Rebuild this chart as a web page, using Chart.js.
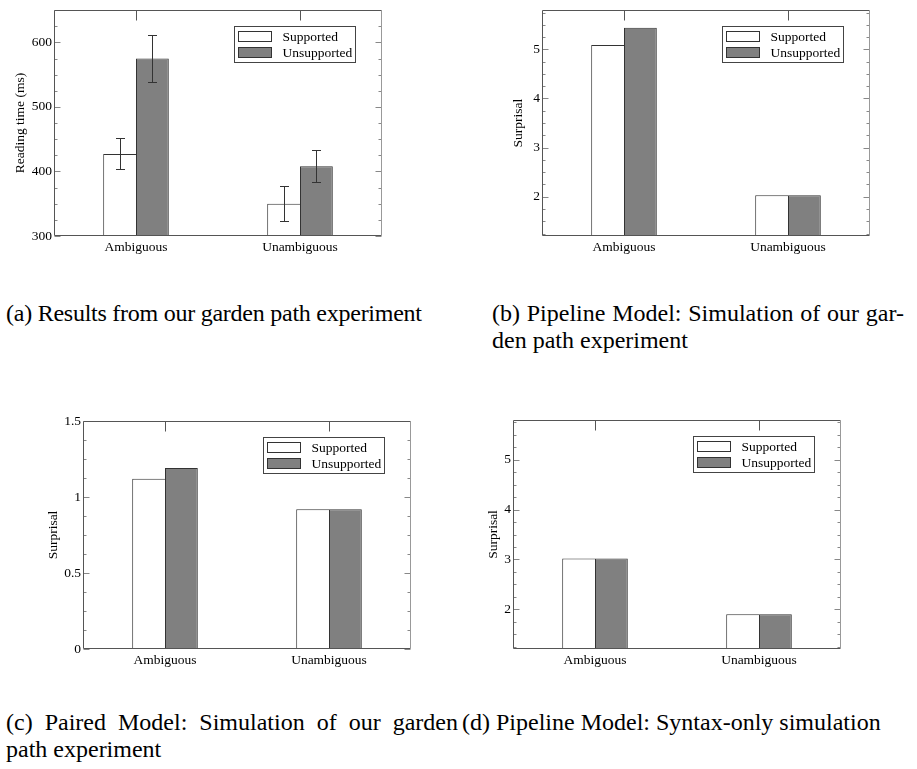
<!DOCTYPE html>
<html lang="en">
<head>
<meta charset="utf-8">
<title>Garden path</title>
<script src="https://cdn.jsdelivr.net/npm/chart.js@4.4.1/dist/chart.umd.min.js"></script>
<style>
  body { margin: 0; background: #fff; width: 917px; height: 769px; position: relative; overflow: hidden;
         font-family: 'Liberation Serif', 'Times New Roman', serif; }
  canvas { position: absolute; }
  .pie { position: absolute; font-size: 24px; line-height: 27px; color: #000; white-space: nowrap; }
  .justo { white-space: normal; text-align: justify; text-align-last: justify; }
</style>
</head>
<body>
<canvas id="grafA" width="390" height="260" style="left:10px; top:0px"></canvas>
<canvas id="grafB" width="390" height="260" style="left:508px; top:0px"></canvas>
<canvas id="grafC" width="390" height="270" style="left:43px; top:400px"></canvas>
<canvas id="grafD" width="390" height="270" style="left:483px; top:400px"></canvas>

<div class="pie" style="left:6px; top:300px; letter-spacing:-0.25px">(a) Results from our garden path experiment</div>
<div class="pie justo" style="left:492px; top:300px; width:412px">(b) Pipeline Model: Simulation of our gar-</div>
<div class="pie" style="left:492px; top:327px">den path experiment</div>
<div class="pie justo" style="left:6px; top:709px; width:452px">(c) Paired Model: Simulation of our garden</div>
<div class="pie" style="left:462px; top:709px">(d) Pipeline Model: Syntax-only simulation</div>
<div class="pie" style="left:6px; top:736px">path experiment</div>

<script>
// --- Datos ---
const categorias = ['Ambiguous', 'Unambiguous'];
const series = ['Supported', 'Unsupported'];

// (a) tiempos de lectura en ms, con barras de error
const tiempoApoyado = [427, 350];
const tiempoNoApoyado = [575, 408];
const errorApoyadoBajo = [404, 323];
const errorApoyadoAlto = [452, 378];
const errorNoApoyadoBajo = [539, 383];
const errorNoApoyadoAlto = [611, 433];

// (b) modelo pipeline
const pipelineApoyado = [5.09, 2.03];
const pipelineNoApoyado = [5.44, 2.03];

// (c) modelo pareado
const pareadoApoyado = [1.12, 0.92];
const pareadoNoApoyado = [1.19, 0.92];

// (d) pipeline solo sintaxis
const sintaxisApoyado = [3.02, 1.90];
const sintaxisNoApoyado = [3.02, 1.90];

// Marcas del eje Y de cada panel
const marcasA = [300, 400, 500, 600];
const marcasB = [2, 3, 4, 5];
const marcasC = [0, 0.5, 1, 1.5];
const marcasD = [2, 3, 4, 5];

Chart.defaults.font.family = "'Liberation Serif', 'Times New Roman', serif";
Chart.defaults.font.size = 13.5;
Chart.defaults.color = '#000';

// Marco de la gráfica con marcas hacia dentro
const marcoEjes = {
  id: 'marcoEjes',
  afterDatasetsDraw(chart, args, opts) {
    const ctx = chart.ctx;
    const a = chart.chartArea;
    const ejeY = chart.scales.y;
    const ejeX = chart.scales.x;
    const linea = (x1, y1, x2, y2) => { ctx.beginPath(); ctx.moveTo(x1, y1); ctx.lineTo(x2, y2); ctx.stroke(); };
    const l = Math.round(a.left) + 0.5, r = Math.round(a.right) - 0.5;
    const t = Math.round(a.top) + 0.5, b = Math.round(a.bottom) - 0.5;
    ctx.save();
    ctx.lineWidth = 1;
    ctx.strokeStyle = '#888';
    const paso = opts.pasoMenor;
    for (let k = Math.ceil(ejeY.min / paso - 1e-9); k * paso <= ejeY.max + 1e-9; k++) {
      const v = k * paso;
      const py = Math.round(ejeY.getPixelForValue(v)) + 0.5;
      const mayor = ejeY.ticks.some(m => Math.abs(m.value - v) < 1e-9);
      const largo = mayor ? 6 : 3;
      linea(l, py, l + largo, py);
      linea(r - largo, py, r, py);
    }
    ctx.strokeStyle = '#555';
    ejeX.ticks.forEach((m, i) => {
      const px = Math.round(ejeX.getPixelForTick(i)) + 0.5;
      linea(px, t, px, t + 10);
    });
    linea(l, t, r, t);
    linea(l, t, l, b);
    linea(l, b, r, b);
    ctx.strokeStyle = '#999';
    linea(r, t, r, b);
    ctx.restore();
  }
};

// Barras de error (solo el panel a)
const barrasError = {
  id: 'barrasError',
  afterDatasetsDraw(chart) {
    const ctx = chart.ctx;
    const ejeY = chart.scales.y;
    ctx.save();
    ctx.strokeStyle = '#333';
    ctx.lineWidth = 1;
    chart.data.datasets.forEach((ds, i) => {
      if (!ds.errores) return;
      chart.getDatasetMeta(i).data.forEach((barra, j) => {
        const x = Math.round(barra.x) + 0.5;
        const yAlto = Math.round(ejeY.getPixelForValue(ds.errores.alto[j])) + 0.5;
        const yBajo = Math.round(ejeY.getPixelForValue(ds.errores.bajo[j])) + 0.5;
        ctx.beginPath();
        ctx.moveTo(x, yAlto); ctx.lineTo(x, yBajo);
        ctx.moveTo(x - 4.5, yAlto); ctx.lineTo(x + 4.5, yAlto);
        ctx.moveTo(x - 4.5, yBajo); ctx.lineTo(x + 4.5, yBajo);
        ctx.stroke();
      });
    });
    ctx.restore();
  }
};

// Leyenda en caja dentro del área de la gráfica
const leyendaCaja = {
  id: 'leyendaCaja',
  afterDraw(chart) {
    const ctx = chart.ctx;
    const a = chart.chartArea;
    const ancho = 121, alto = 36;
    const x0 = Math.round(a.right - 27 - ancho) + 0.5;
    const y0 = Math.round(a.top + 16) + 0.5;
    ctx.save();
    ctx.lineWidth = 1;
    ctx.strokeStyle = '#444';
    ctx.strokeRect(x0, y0, ancho, alto);
    ctx.font = "13.5px 'Liberation Serif', serif";
    ctx.textBaseline = 'middle';
    chart.data.datasets.forEach((ds, i) => {
      const ys = y0 + 5 + i * 16;
      ctx.fillStyle = ds.backgroundColor;
      ctx.fillRect(x0 + 4, ys, 33, 10);
      ctx.strokeStyle = '#333';
      ctx.strokeRect(x0 + 4, ys, 33, 10);
      ctx.fillStyle = '#000';
      ctx.fillText(ds.label, x0 + 48, ys + 5.5);
    });
    ctx.restore();
  }
};

function crearGrafica(id, apoyado, noApoyado, marcas, minimo, maximo, pasoMenor, tituloY, caja, errores) {
  const lienzo = document.getElementById(id);
  return new Chart(lienzo.getContext('2d'), {
    type: 'bar',
    data: {
      labels: categorias,
      datasets: [
        { label: series[0], data: apoyado, backgroundColor: '#ffffff', borderColor: '#333',
          borderWidth: { top: 1, left: 1, right: 0, bottom: 0 },
          errores: errores ? errores[0] : null },
        { label: series[1], data: noApoyado, backgroundColor: '#808080', borderColor: '#333',
          borderWidth: { top: 1, left: 1, right: 1, bottom: 0 },
          errores: errores ? errores[1] : null }
      ]
    },
    options: {
      responsive: false,
      animation: false,
      datasets: { bar: { categoryPercentage: 0.4, barPercentage: 1.0, borderSkipped: false } },
      layout: { padding: { top: caja.arriba, right: lienzo.width - caja.der, left: 0, bottom: 0 } },
      plugins: {
        legend: { display: false },
        tooltip: { enabled: false },
        marcoEjes: { pasoMenor: pasoMenor }
      },
      scales: {
        x: {
          grid: { display: false, drawTicks: false },
          border: { display: false },
          ticks: { padding: 3, maxRotation: 0 },
          afterFit: s => { s.height = lienzo.height - caja.abajo; }
        },
        y: {
          min: minimo,
          max: maximo,
          grid: { display: false, drawTicks: false },
          border: { display: false },
          ticks: { padding: 2, callback: v => String(v) },
          afterBuildTicks: s => { s.ticks = marcas.map(v => ({ value: v })); },
          afterFit: s => { s.width = caja.izq; },
          title: { display: true, text: tituloY, font: { size: 13.5, lineHeight: 1.2 }, padding: { top: 2, bottom: 0 } }
        }
      }
    },
    plugins: [barrasError, marcoEjes, leyendaCaja]
  });
}

crearGrafica('grafA', tiempoApoyado, tiempoNoApoyado, marcasA, 300, 650, 25, 'Reading time (ms)',
  { izq: 44, arriba: 7, der: 372, abajo: 236 },
  [{ bajo: errorApoyadoBajo, alto: errorApoyadoAlto }, { bajo: errorNoApoyadoBajo, alto: errorNoApoyadoAlto }]);

crearGrafica('grafB', pipelineApoyado, pipelineNoApoyado, marcasB, 1.2, 5.8, 0.25, 'Surprisal',
  { izq: 34, arriba: 7, der: 362, abajo: 236 });

crearGrafica('grafC', pareadoApoyado, pareadoNoApoyado, marcasC, 0, 1.5, 0.125, 'Surprisal',
  { izq: 40, arriba: 21, der: 368, abajo: 249 });

crearGrafica('grafD', sintaxisApoyado, sintaxisNoApoyado, marcasD, 1.2, 5.8, 0.25, 'Surprisal',
  { izq: 30, arriba: 20, der: 358, abajo: 249 });
</script>
</body>
</html>
